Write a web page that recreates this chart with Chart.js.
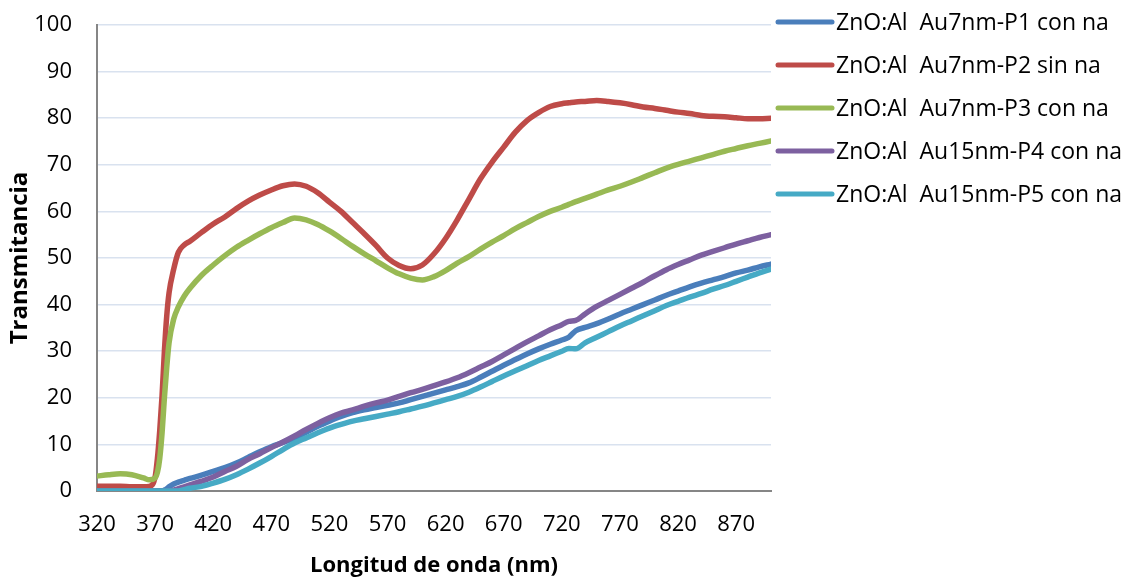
<!DOCTYPE html>
<html>
<head>
<meta charset="utf-8">
<script src="https://cdn.jsdelivr.net/npm/chart.js@4/dist/chart.umd.min.js"></script>
<style>
  html, body { margin: 0; padding: 0; background: #ffffff; }
  canvas { display: block; }
</style>
</head>
<body>
<canvas id="chart" width="1134" height="583"></canvas>
<script>
// Wavelength samples (nm)
const wavelengths = [
  320, 330, 340, 350, 360, 365, 370, 372, 374, 376, 378, 380, 382, 386, 390, 395,
  400, 410, 420, 430, 440, 450, 460, 470, 480, 490, 500, 510, 520, 530, 540, 550,
  560, 570, 580, 590, 600, 610, 620, 630, 640, 650, 660, 670, 680, 690, 700, 710,
  720, 726, 732, 740, 750, 760, 770, 780, 790, 800, 810, 820, 830, 840, 850, 860,
  870, 880, 890, 900
];

// Transmittance (%) of each sample
const p1 = [
  0, 0, 0, 0, 0, 0, 0, 0, 0, 0, 0.2, 0.5, 0.9, 1.5, 1.9, 2.3,
  2.7, 3.4, 4.2, 5.0, 6.0, 7.2, 8.4, 9.5, 10.4, 11.4, 12.6, 13.9, 15.0, 16.0, 16.8, 17.4,
  17.9, 18.4, 18.9, 19.6, 20.3, 21.0, 21.7, 22.4, 23.2, 24.4, 25.7, 27.0, 28.2, 29.4, 30.5, 31.5,
  32.4, 33.0, 34.4, 35.1, 35.9, 36.9, 38.0, 39.0, 40.0, 41.0, 42.0, 42.9, 43.8, 44.6, 45.3, 46.0,
  46.8, 47.4, 48.1, 48.7
];
const p2 = [
  1.0, 1.0, 1.0, 0.9, 0.9, 1.0, 3.0, 7.0, 13.0, 20.5, 30.0, 37.5, 42.5, 47.6, 51.2, 52.8,
  53.6, 55.5, 57.3, 58.8, 60.6, 62.2, 63.5, 64.6, 65.5, 65.9, 65.4, 64.0, 62.0, 60.0, 57.6, 55.2,
  52.7, 50.0, 48.4, 47.7, 48.5, 50.9, 54.2, 58.2, 62.6, 67.0, 70.6, 73.8, 77.0, 79.5, 81.2, 82.5,
  83.1, 83.3, 83.5, 83.6, 83.8, 83.6, 83.3, 82.9, 82.4, 82.1, 81.7, 81.3, 81.0, 80.6, 80.4, 80.3,
  80.1, 79.9, 79.9, 80.0
];
const p3 = [
  3.2, 3.5, 3.7, 3.5, 2.8, 2.4, 2.8, 4.0, 7.0, 12.5, 20.0, 26.5, 31.8, 36.9, 39.5, 41.8,
  43.5, 46.3, 48.5, 50.5, 52.3, 53.8, 55.2, 56.5, 57.6, 58.6, 58.2, 57.2, 55.8, 54.2, 52.5, 50.9,
  49.4, 47.9, 46.6, 45.7, 45.3, 46.0, 47.3, 48.9, 50.3, 51.9, 53.4, 54.8, 56.3, 57.6, 58.9, 60.0,
  60.9, 61.5, 62.1, 62.8, 63.7, 64.6, 65.4, 66.3, 67.3, 68.3, 69.3, 70.1, 70.8, 71.5, 72.2, 72.9,
  73.5, 74.1, 74.6, 75.1
];
const p4 = [
  0, 0, 0, 0, 0, 0, 0, 0, 0, 0, 0, 0, 0, 0.2, 0.5, 0.9,
  1.3, 2.1, 3.0, 4.2, 5.3, 6.8, 8.0, 9.3, 10.5, 11.8, 13.2, 14.5, 15.7, 16.7, 17.4, 18.2,
  18.9, 19.5, 20.3, 21.1, 21.8, 22.6, 23.4, 24.3, 25.4, 26.6, 27.8, 29.2, 30.6, 32.0, 33.3, 34.6,
  35.7, 36.4, 36.6, 38.0, 39.6, 40.9, 42.2, 43.5, 44.8, 46.2, 47.5, 48.6, 49.6, 50.6, 51.4, 52.2,
  53.0, 53.7, 54.4, 55.0
];
const p5 = [
  0, 0, 0, 0, 0, 0, 0, 0, 0, 0, 0, 0, 0, 0, 0, 0.3,
  0.6, 1.0, 1.7, 2.5, 3.5, 4.7, 6.0, 7.4, 8.9, 10.3, 11.4, 12.5, 13.5, 14.3, 15.0, 15.5,
  16.0, 16.5, 17.0, 17.6, 18.2, 18.9, 19.6, 20.3, 21.2, 22.3, 23.5, 24.7, 25.8, 26.9, 28.0, 29.0,
  30.0, 30.6, 30.5, 31.8, 33.0, 34.2, 35.4, 36.5, 37.6, 38.7, 39.8, 40.7, 41.6, 42.4, 43.3, 44.1,
  45.0, 45.9, 46.8, 47.6
];

const seriesNames = [
  'ZnO:Al  Au7nm-P1 con na',
  'ZnO:Al  Au7nm-P2 sin na',
  'ZnO:Al  Au7nm-P3 con na',
  'ZnO:Al  Au15nm-P4 con na',
  'ZnO:Al  Au15nm-P5 con na'
];
const seriesValues = [p1, p2, p3, p4, p5];
const seriesColors = ['#4a7ebb', '#be4b48', '#98b954', '#7d60a0', '#46aac5'];

const xTicks = [320, 370, 420, 470, 520, 570, 620, 670, 720, 770, 820, 870];
const xMin = 320, xMax = 900;
const yMin = 0, yMax = 100, yStep = 10;

const xTitle = 'Longitud de onda (nm)';
const yTitle = 'Transmitancia';

const FONT = "'Open Sans', 'DejaVu Sans', sans-serif";

// Legend drawn beside the plot: short line swatch + label for each series
const sideLegend = {
  id: 'sideLegend',
  afterDraw(chart, args, opts) {
    const { ctx } = chart;
    const x0 = chart.chartArea.right + opts.gap;
    chart.data.datasets.forEach((ds, i) => {
      const y = opts.top + i * opts.spacing;
      ctx.save();
      ctx.strokeStyle = ds.borderColor;
      ctx.lineWidth = 5;
      ctx.lineCap = 'round';
      ctx.beginPath();
      ctx.moveTo(x0, y);
      ctx.lineTo(x0 + opts.swatch, y);
      ctx.stroke();
      ctx.fillStyle = '#000000';
      ctx.font = opts.font;
      ctx.textBaseline = 'middle';
      ctx.textAlign = 'left';
      ctx.fillText(ds.label, x0 + opts.swatch + 4, y + 1);
      ctx.restore();
    });
  }
};

const datasets = seriesNames.map((name, i) => ({
  label: name,
  data: wavelengths.map((w, k) => ({ x: w, y: seriesValues[i][k] })),
  borderColor: seriesColors[i],
  backgroundColor: seriesColors[i],
  borderWidth: 5.5,
  borderCapStyle: 'round',
  borderJoinStyle: 'round',
  pointRadius: 0,
  cubicInterpolationMode: 'monotone',
  fill: false,
  order: seriesNames.length - 1 - i
}));

new Chart(document.getElementById('chart'), {
  type: 'line',
  data: { datasets },
  options: {
    responsive: false,
    animation: false,
    events: [],
    layout: { padding: { left: 0, right: 363, top: 25, bottom: 0 } },
    plugins: {
      legend: { display: false },
      tooltip: { enabled: false },
      sideLegend: {
        gap: 7, swatch: 54, top: 22, spacing: 43,
        font: "23px " + FONT
      }
    },
    scales: {
      x: {
        type: 'linear',
        min: xMin,
        max: xMax,
        afterBuildTicks(scale) { scale.ticks = xTicks.map(v => ({ value: v })); },
        afterFit(scale) { scale.height = 92; },
        grid: { display: false, drawTicks: false },
        border: { display: true, color: '#868686', width: 2 },
        ticks: {
          padding: 21,
          maxRotation: 0,
          autoSkip: false,
          color: '#000000',
          font: { family: FONT, size: 22 }
        },
        title: {
          display: true,
          text: xTitle,
          color: '#000000',
          font: { family: FONT, size: 22, weight: 'bold' },
          padding: { top: 0, bottom: 4 }
        }
      },
      y: {
        min: yMin,
        max: yMax,
        afterFit(scale) {
          scale.width = 97;
          scale.paddingTop = 0;
          scale.paddingBottom = 0;
        },
        grid: { color: '#d9e2ef', lineWidth: 1.5, drawTicks: false },
        border: { display: true, color: '#868686', width: 2 },
        ticks: {
          stepSize: yStep,
          padding: 25,
          color: '#000000',
          font: { family: FONT, size: 22 }
        },
        title: {
          display: true,
          text: yTitle,
          color: '#000000',
          font: { family: FONT, size: 24, weight: 'bold' },
          padding: { top: 6, bottom: 0 }
        }
      }
    }
  },
  plugins: [sideLegend]
});
</script>
</body>
</html>
